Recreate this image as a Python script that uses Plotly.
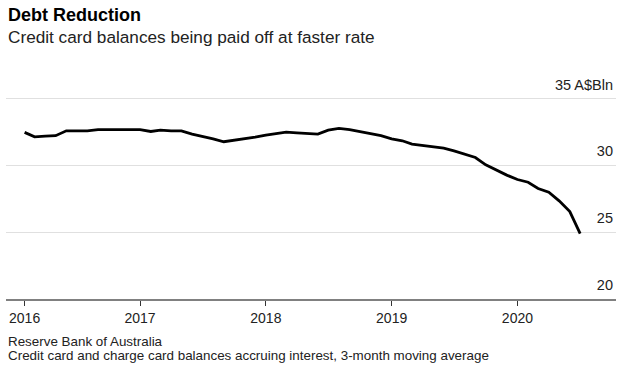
import pandas as pd
import plotly.graph_objects as go

# Monthly data, Feb 2016 .. Jul 2020 (A$ billion)
start_month = "2016-02-01"
balances = [
    32.48, 32.15, 32.20, 32.23, 32.60, 32.60, 32.60, 32.68, 32.68, 32.68,
    32.68, 32.68, 32.55, 32.65, 32.60, 32.60, 32.35, 32.20, 32.00, 31.78,
    31.88, 31.98, 32.12, 32.28, 32.38, 32.50, 32.45, 32.38, 32.35, 32.65,
    32.78, 32.68, 32.55, 32.40, 32.23, 32.00, 31.85, 31.60, 31.50, 31.42,
    31.30, 31.10, 30.85, 30.60, 30.05, 29.65, 29.28, 28.95, 28.75, 28.28,
    28.00, 27.35, 26.55, 24.90,
]
dates = pd.date_range(start_month, periods=len(balances), freq="MS")

x_tick_vals = ["2016-02-01", "2017-01-01", "2018-01-01", "2019-01-01", "2020-01-01"]
x_tick_text = ["2016", "2017", "2018", "2019", "2020"]
y_tick_vals = [20, 25, 30, 35]
y_tick_text = ["20", "25", "30", "35 A$Bln"]

title = "<b>Debt Reduction</b>"
subtitle = "Credit card balances being paid off at faster rate"
source = "Reserve Bank of Australia"
note = "Credit card and charge card balances accruing interest, 3-month moving average"

FONT = "Liberation Sans, Arial, sans-serif"

fig = go.Figure()
fig.add_trace(go.Scatter(
    x=dates, y=balances, mode="lines",
    line=dict(color="#000000", width=2.8),
    hoverinfo="skip",
))

H = 369
top_px = 60.0
bot_px = 298.7
px_per_unit = (bot_px - 98.7) / 15.0
y_top = 35 + (98.7 - top_px) / px_per_unit

fig.update_layout(
    width=636, height=369,
    margin=dict(l=6, r=20, t=top_px, b=H - bot_px, pad=0),
    paper_bgcolor="white", plot_bgcolor="white",
    showlegend=False,
    font=dict(family=FONT, color="#222222"),
    xaxis=dict(
        type="date",
        range=["2015-12-09", "2020-10-13"],
        tickvals=x_tick_vals, ticktext=x_tick_text,
        showgrid=False, zeroline=False,
        showline=True, linecolor="#808080", linewidth=2,
        ticks="outside", ticklen=5, tickwidth=1, tickcolor="#333333",
        tickfont=dict(size=14, color="#222222"),
        fixedrange=True,
    ),
    yaxis=dict(
        range=[20, y_top],
        side="right",
        tickvals=y_tick_vals, ticktext=y_tick_text,
        ticklabelposition="inside top",
        ticklabelshift=-4,
        showgrid=True, gridcolor="#e0e0e0", gridwidth=1,
        zeroline=False, showline=False, ticks="",
        tickfont=dict(size=14.5, color="#222222"),
        fixedrange=True,
    ),
    annotations=[
        dict(text=title, xref="paper", yref="paper", x=0, xshift=0,
             y=1, yshift=top_px - 15, xanchor="left", yanchor="middle",
             showarrow=False, font=dict(size=18, color="#000000", family=FONT)),
        dict(text=subtitle, xref="paper", yref="paper", x=0,
             y=1, yshift=top_px - 37, xanchor="left", yanchor="middle",
             showarrow=False, font=dict(size=17.2, color="#222222", family=FONT)),
        dict(text=source, xref="paper", yref="paper", x=0,
             y=0, yshift=-(341 - bot_px), xanchor="left", yanchor="middle",
             showarrow=False, font=dict(size=13.4, color="#222222", family=FONT)),
        dict(text=note, xref="paper", yref="paper", x=0,
             y=0, yshift=-(355.5 - bot_px), xanchor="left", yanchor="middle",
             showarrow=False, font=dict(size=13.4, color="#222222", family=FONT)),
    ],
)

fig.write_html("out.html", config={"displayModeBar": False},
               post_script="document.body.style.margin='0';")
